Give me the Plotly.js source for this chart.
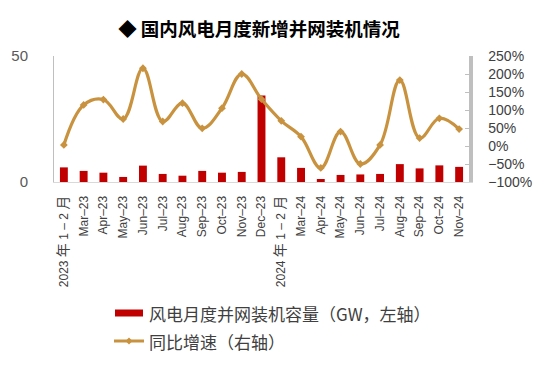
<!DOCTYPE html>
<html>
<head>
<meta charset="utf-8">
<script src="https://cdn.plot.ly/plotly-3.0.1.min.js"></script>
<style>html,body{margin:0;padding:0;background:#fff;}#chart{width:549px;height:369px;}</style>
</head>
<body>
<div id="chart"></div>
<script>
// Data
const categories = ['2023年1-2月','Mar-23','Apr-23','May-23','Jun-23','Jul-23','Aug-23','Sep-23','Oct-23','Nov-23','Dec-23',
  '2024年1-2月','Mar-24','Apr-24','May-24','Jun-24','Jul-24','Aug-24','Sep-24','Oct-24','Nov-24'];
const tickLabels = ['2023年1–2月','Mar–23','Apr–23','May–23','Jun–23','Jul–23','Aug–23','Sep–23','Oct–23','Nov–23','Dec–23',
  '2024年1–2月','Mar–24','Apr–24','May–24','Jun–24','Jul–24','Aug–24','Sep–24','Oct–24','Nov–24'];
const capacityGW = [5.8, 4.4, 3.7, 2.0, 6.5, 3.2, 2.5, 4.4, 3.7, 4.0, 34.3,
  9.8, 5.6, 1.2, 2.8, 3.0, 3.2, 7.1, 5.4, 6.6, 6.0];
const yoyPct = [3, 114, 129, 75, 216, 68, 119, 49, 105, 200, 130,
  70, 26, -61, 40, -50, 3, 183, 22, 77, 47];
const leftTicks = [0, 50];
const rightTicks = [-100, -50, 0, 50, 100, 150, 200, 250];
const rightTickText = ['−100%', '−50%', '0%', '50%', '100%', '150%', '200%', '250%'];
const seriesNames = ['风电月度并网装机容量（GW，左轴）', '同比增速（右轴）'];
const titleText = '◆ 国内风电月度新增并网装机情况';

// layout geometry (pixels)
const W = 549, H = 369, L = 54, R = 469, T = 56, B = 182;
const px = x => (x - L) / (R - L);
const py = y => (B - y) / (B - T);

const barColor = '#C00000';
const lineColor = '#C8923F';
const textColor = '#404040';
const latin = 'Arial, "Liberation Sans", sans-serif';

// style the CJK characters inside tick labels a little larger, with spacing
const styledTicks = tickLabels.map(t => t
  .replace(/([年月])/g, ' <span style="font-family:Noto Sans CJK SC;font-size:14px">$1</span> ')
  .replace('–', ' – ').trim());

const traces = [
  {
    type: 'bar', x: categories, y: capacityGW, name: seriesNames[0],
    marker: {color: barColor}, width: 0.4, yaxis: 'y', showlegend: false,
    hoverinfo: 'x+y'
  },
  {
    type: 'scatter', mode: 'lines+markers', x: categories, y: yoyPct, name: seriesNames[1],
    line: {color: lineColor, width: 3.2, shape: 'spline', smoothing: 1.1},
    marker: {symbol: 'diamond', size: 6, color: lineColor},
    yaxis: 'y2', showlegend: false
  }
];

const lx0 = 114, lx1 = 144, row1 = 313, row2 = 341;
const d = 3.5, cx = 129;
const layout = {
  width: W, height: H,
  margin: {l: L, r: W - R, t: T, b: H - B, pad: 0},
  paper_bgcolor: '#fff', plot_bgcolor: '#fff',
  font: {family: latin, color: textColor},
  title: {
    text: titleText, xref: 'container', yref: 'container',
    x: 259 / W, y: 1 - 30 / H, xanchor: 'center', yanchor: 'middle',
    font: {family: 'Noto Sans CJK SC', size: 18.5, weight: 'bold', color: '#000'}
  },
  showlegend: false,
  xaxis: {
    type: 'category', tickmode: 'array', tickvals: categories,
    ticktext: categories.map((c, i) => (c.indexOf('年') >= 0 ? styledTicks[i] : tickLabels[i])),
    tickangle: -90, tickfont: {size: 12, color: textColor, family: latin},
    showline: true, linecolor: '#D9D9D9', linewidth: 1, ticks: '', showgrid: false,
    zeroline: false, ticklabelstandoff: 8, range: [-0.5, categories.length - 0.5]
  },
  yaxis: {
    range: [0, 50], tickmode: 'array', tickvals: leftTicks, showgrid: false, zeroline: false,
    showline: true, linecolor: '#BFBFBF', linewidth: 1, ticks: 'inside', ticklen: 5, tickcolor: '#BFBFBF',
    tickfont: {size: 15, color: '#595959', family: latin}, ticklabelstandoff: 22
  },
  yaxis2: {
    overlaying: 'y', side: 'right', range: [-100, 250], tickmode: 'array', tickvals: rightTicks,
    ticktext: rightTickText, showgrid: false, zeroline: false,
    showline: true, linecolor: '#BFBFBF', linewidth: 3.5, ticks: 'inside', ticklen: 4, tickcolor: '#BFBFBF',
    tickfont: {size: 14, color: textColor, family: latin}, ticklabelstandoff: 13
  },
  shapes: [
    {type: 'rect', xref: 'paper', yref: 'paper', x0: px(lx0 + 1), x1: px(lx1 - 1), y0: py(row1 - 3.5), y1: py(row1 + 3.5),
      fillcolor: barColor, line: {width: 0}},
    {type: 'line', xref: 'paper', yref: 'paper', x0: px(lx0), x1: px(lx1), y0: py(row2), y1: py(row2),
      line: {color: lineColor, width: 3}},
    {type: 'path', xref: 'paper', yref: 'paper',
      path: `M${px(cx - d)},${py(row2)} L${px(cx)},${py(row2 - d)} L${px(cx + d)},${py(row2)} L${px(cx)},${py(row2 + d)} Z`,
      fillcolor: lineColor, line: {width: 0}}
  ],
  annotations: [
    {xref: 'paper', yref: 'paper', x: px(147), y: py(row1), xanchor: 'left', yanchor: 'middle', showarrow: false,
      text: seriesNames[0], font: {family: 'Noto Sans CJK SC', size: 17, color: textColor}},
    {xref: 'paper', yref: 'paper', x: px(147), y: py(row2), xanchor: 'left', yanchor: 'middle', showarrow: false,
      text: seriesNames[1], font: {family: 'Noto Sans CJK SC', size: 17, color: textColor}}
  ]
};

Plotly.newPlot('chart', traces, layout, {displayModeBar: false, staticPlot: true});
</script>
</body>
</html>
